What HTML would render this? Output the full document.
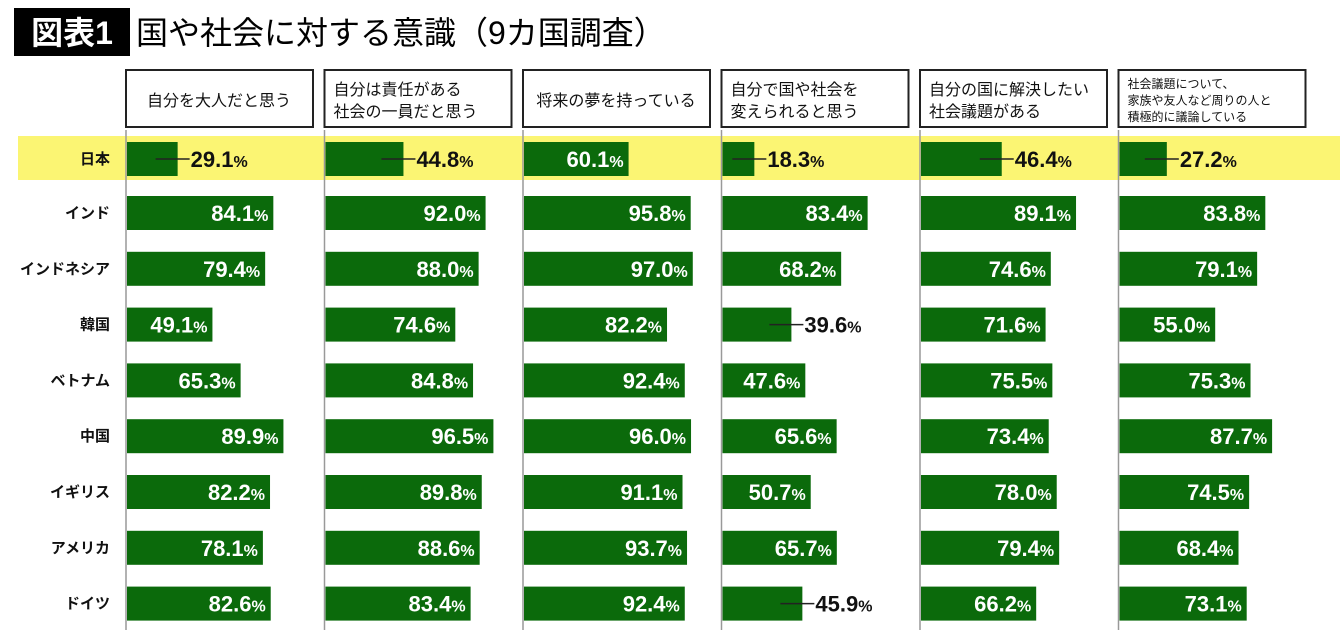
<!DOCTYPE html>
<html><head><meta charset="utf-8"><style>
body{margin:0;width:1340px;height:636px;background:#fff;overflow:hidden;font-family:"Liberation Sans","Noto Sans CJK JP",sans-serif;}
svg text{font-family:"Liberation Sans","Noto Sans CJK JP",sans-serif;}
</style></head><body>
<svg id="c" width="1340" height="636" xmlns="http://www.w3.org/2000/svg">
<rect x="14" y="8" width="116" height="48" fill="#000"/>
<text x="72" y="44" fill="#fff" font-size="32" font-weight="bold" text-anchor="middle">図表1</text>
<text x="136" y="44" fill="#000" font-size="32">国や社会に対する意識（9カ国調査）</text>
<rect x="18" y="136" width="1322" height="44" fill="#fbf573"/>
</svg>
<script>
const questions=[["自分を大人だと思う"],["自分は責任がある","社会の一員だと思う"],["将来の夢を持っている"],["自分で国や社会を","変えられると思う"],["自分の国に解決したい","社会議題がある"],["社会議題について、","家族や友人など周りの人と","積極的に議論している"]];
const countries=["日本","インド","インドネシア","韓国","ベトナム","中国","イギリス","アメリカ","ドイツ"];
const q1=[29.1,84.1,79.4,49.1,65.3,89.9,82.2,78.1,82.6];
const q2=[44.8,92.0,88.0,74.6,84.8,96.5,89.8,88.6,83.4];
const q3=[60.1,95.8,97.0,82.2,92.4,96.0,91.1,93.7,92.4];
const q4=[18.3,83.4,68.2,39.6,47.6,65.6,50.7,65.7,45.9];
const q5=[46.4,89.1,74.6,71.6,75.5,73.4,78.0,79.4,66.2];
const q6=[27.2,83.8,79.1,55.0,75.3,87.7,74.5,68.4,73.1];
const series=[q1,q2,q3,q4,q5,q6];
const svg=document.getElementById('c');const NS="http://www.w3.org/2000/svg";
function mk(t,a,txt){const e=document.createElementNS(NS,t);for(const k in a)e.setAttribute(k,a[k]);if(txt!==undefined)e.textContent=txt;svg.appendChild(e);return e;}
const colX=i=>126+i*198.5;
const rowY=r=>r===0?159:213+(r-1)*55.8;
const xs=v=>v*1.74;
questions.forEach((q,i)=>{
 const x=colX(i);
 const b=mk('rect',{x:x,y:70,width:187,height:57,fill:'#fff',stroke:'#222','stroke-width':2});
 
 
 const fs=q.length>2?12:16;const lh=q.length>2?16.5:22;
 const y0=100-(q.length-1)*lh/2+fs*0.38;
 q.forEach((l,j)=>{const t=mk('text',{x:x+(q.length>1?9:93),y:y0+j*lh,'font-size':fs,'text-anchor':q.length>1?'start':'middle',fill:'#111'},l);
 
 });
 const ax=mk('line',{x1:x,y1:130,x2:x,y2:630,stroke:'#999','stroke-width':1.5});
 
 
});
countries.forEach((c,r)=>{
 const t=mk('text',{x:110,y:rowY(r)+5,'font-size':15,'font-weight':'bold','text-anchor':'end',fill:'#111'},c);
 
 
});
series.forEach((s,i)=>{
 const x=colX(i);
 s.forEach((v,r)=>{
  const y=rowY(r),w=xs(v);
  const bar=mk('rect',{x:x+1,y:y-17,width:w,height:34,fill:'#0b6a0b'});
  
  
  const label=v.toFixed(1);
  if(v>=47){
   const t=mk('text',{x:x+1+w-5,y:y+8,'font-size':22,'font-weight':'bold','text-anchor':'end',fill:'#fff'});
   t.innerHTML=label+'<tspan font-size="16">%</tspan>';
   
   
  }else{
   const ln=mk('line',{x1:x+1+w-22,y1:y,x2:x+1+w+12,y2:y,stroke:'#222','stroke-width':1.5});
   
   
   const t=mk('text',{x:x+1+w+13,y:y+8,'font-size':22,'font-weight':'bold','text-anchor':'start',fill:'#111'});
   t.innerHTML=label+'<tspan font-size="16">%</tspan>';
   
   
  }
 });
});
</script>
</body></html>
